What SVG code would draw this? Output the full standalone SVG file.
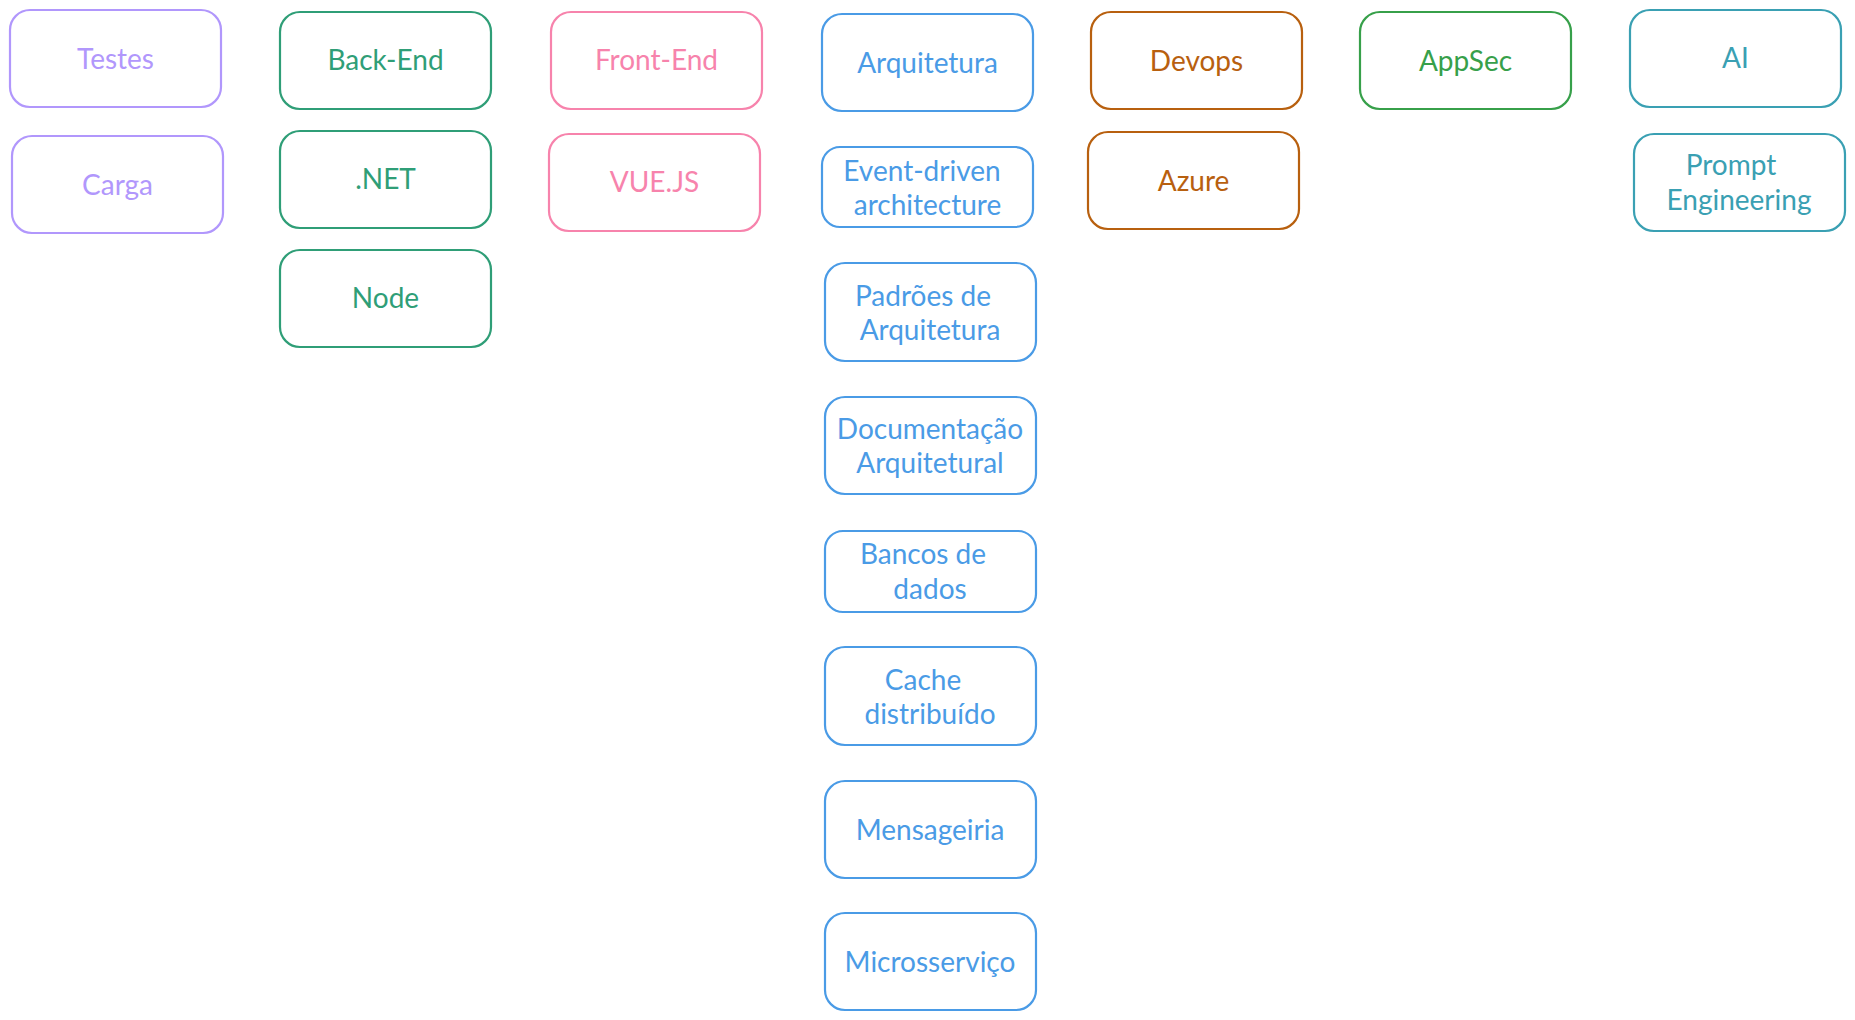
<svg xmlns="http://www.w3.org/2000/svg" width="1855" height="1020" viewBox="0 0 1855 1020">
<style>
  .box { fill: #ffffff; stroke-width: 2.2; }
  .lbl { font-family: Lato, "Open Sans", "Liberation Sans", sans-serif; font-size: 28px; text-anchor: middle; dominant-baseline: central; }
  .violet rect { stroke: #b197fc; } .violet text { fill: #b197fc; }
  .green rect { stroke: #2f9e77; } .green text { fill: #2f9e77; }
  .pink rect { stroke: #f783ac; } .pink text { fill: #f783ac; }
  .blue rect { stroke: #4a9be6; } .blue text { fill: #4a9be6; }
  .orange rect { stroke: #b8600f; } .orange text { fill: #b8600f; }
  .lgreen rect { stroke: #37a04a; } .lgreen text { fill: #37a04a; }
  .teal rect { stroke: #3aa0b3; } .teal text { fill: #3aa0b3; }
</style>
<rect width="1855" height="1020" fill="#ffffff"/>
<g id="connectors"/>
<g id="testes" class="violet"><rect class="box" x="10" y="10" width="211" height="97" rx="20"/><text class="lbl" x="115.5" y="58">Testes</text></g>
<g id="carga" class="violet"><rect class="box" x="12" y="136" width="211" height="97" rx="20"/><text class="lbl" x="117.5" y="184">Carga</text></g>
<g id="backend" class="green"><rect class="box" x="280" y="12" width="211" height="97" rx="20"/><text class="lbl" x="385.5" y="59">Back-End</text></g>
<g id="dotnet" class="green"><rect class="box" x="280" y="131" width="211" height="97" rx="20"/><text class="lbl" x="385.5" y="178">.NET</text></g>
<g id="node" class="green"><rect class="box" x="280" y="250" width="211" height="97" rx="20"/><text class="lbl" x="385.5" y="297">Node</text></g>
<g id="frontend" class="pink"><rect class="box" x="551" y="12" width="211" height="97" rx="20"/><text class="lbl" x="656.5" y="59">Front-End</text></g>
<g id="vuejs" class="pink"><rect class="box" x="549" y="134" width="211" height="97" rx="20"/><text class="lbl" x="654.5" y="181">VUE.JS</text></g>
<g id="arquitetura" class="blue"><rect class="box" x="822" y="14" width="211" height="97" rx="20"/><text class="lbl" x="927.5" y="62">Arquitetura</text></g>
<g id="eventdriven" class="blue"><rect class="box" x="822" y="147" width="211" height="80" rx="18"/><text class="lbl" x="922" y="170">Event-driven</text><text class="lbl" x="927.5" y="204">architecture</text></g>
<g id="padroes" class="blue"><rect class="box" x="825" y="263" width="211" height="98" rx="20"/><text class="lbl" x="923" y="295">Padrões de</text><text class="lbl" x="930" y="329">Arquitetura</text></g>
<g id="documentacao" class="blue"><rect class="box" x="825" y="397" width="211" height="97" rx="20"/><text class="lbl" x="930" y="428">Documentação</text><text class="lbl" x="930" y="462">Arquitetural</text></g>
<g id="bancos" class="blue"><rect class="box" x="825" y="531" width="211" height="81" rx="18"/><text class="lbl" x="923" y="553">Bancos de</text><text class="lbl" x="930" y="588">dados</text></g>
<g id="cache" class="blue"><rect class="box" x="825" y="647" width="211" height="98" rx="20"/><text class="lbl" x="923" y="679">Cache</text><text class="lbl" x="930" y="713">distribuído</text></g>
<g id="mensageiria" class="blue"><rect class="box" x="825" y="781" width="211" height="97" rx="20"/><text class="lbl" x="930" y="829">Mensageiria</text></g>
<g id="microsservico" class="blue"><rect class="box" x="825" y="913" width="211" height="97" rx="20"/><text class="lbl" x="930" y="961">Microsserviço</text></g>
<g id="devops" class="orange"><rect class="box" x="1091" y="12" width="211" height="97" rx="20"/><text class="lbl" x="1196.5" y="60">Devops</text></g>
<g id="azure" class="orange"><rect class="box" x="1088" y="132" width="211" height="97" rx="20"/><text class="lbl" x="1193.5" y="180">Azure</text></g>
<g id="appsec" class="lgreen"><rect class="box" x="1360" y="12" width="211" height="97" rx="20"/><text class="lbl" x="1465.5" y="60">AppSec</text></g>
<g id="ai" class="teal"><rect class="box" x="1630" y="10" width="211" height="97" rx="20"/><text class="lbl" x="1735.5" y="57">AI</text></g>
<g id="prompt" class="teal"><rect class="box" x="1634" y="134" width="211" height="97" rx="20"/><text class="lbl" x="1731" y="164">Prompt</text><text class="lbl" x="1739" y="199">Engineering</text></g>
</svg>
